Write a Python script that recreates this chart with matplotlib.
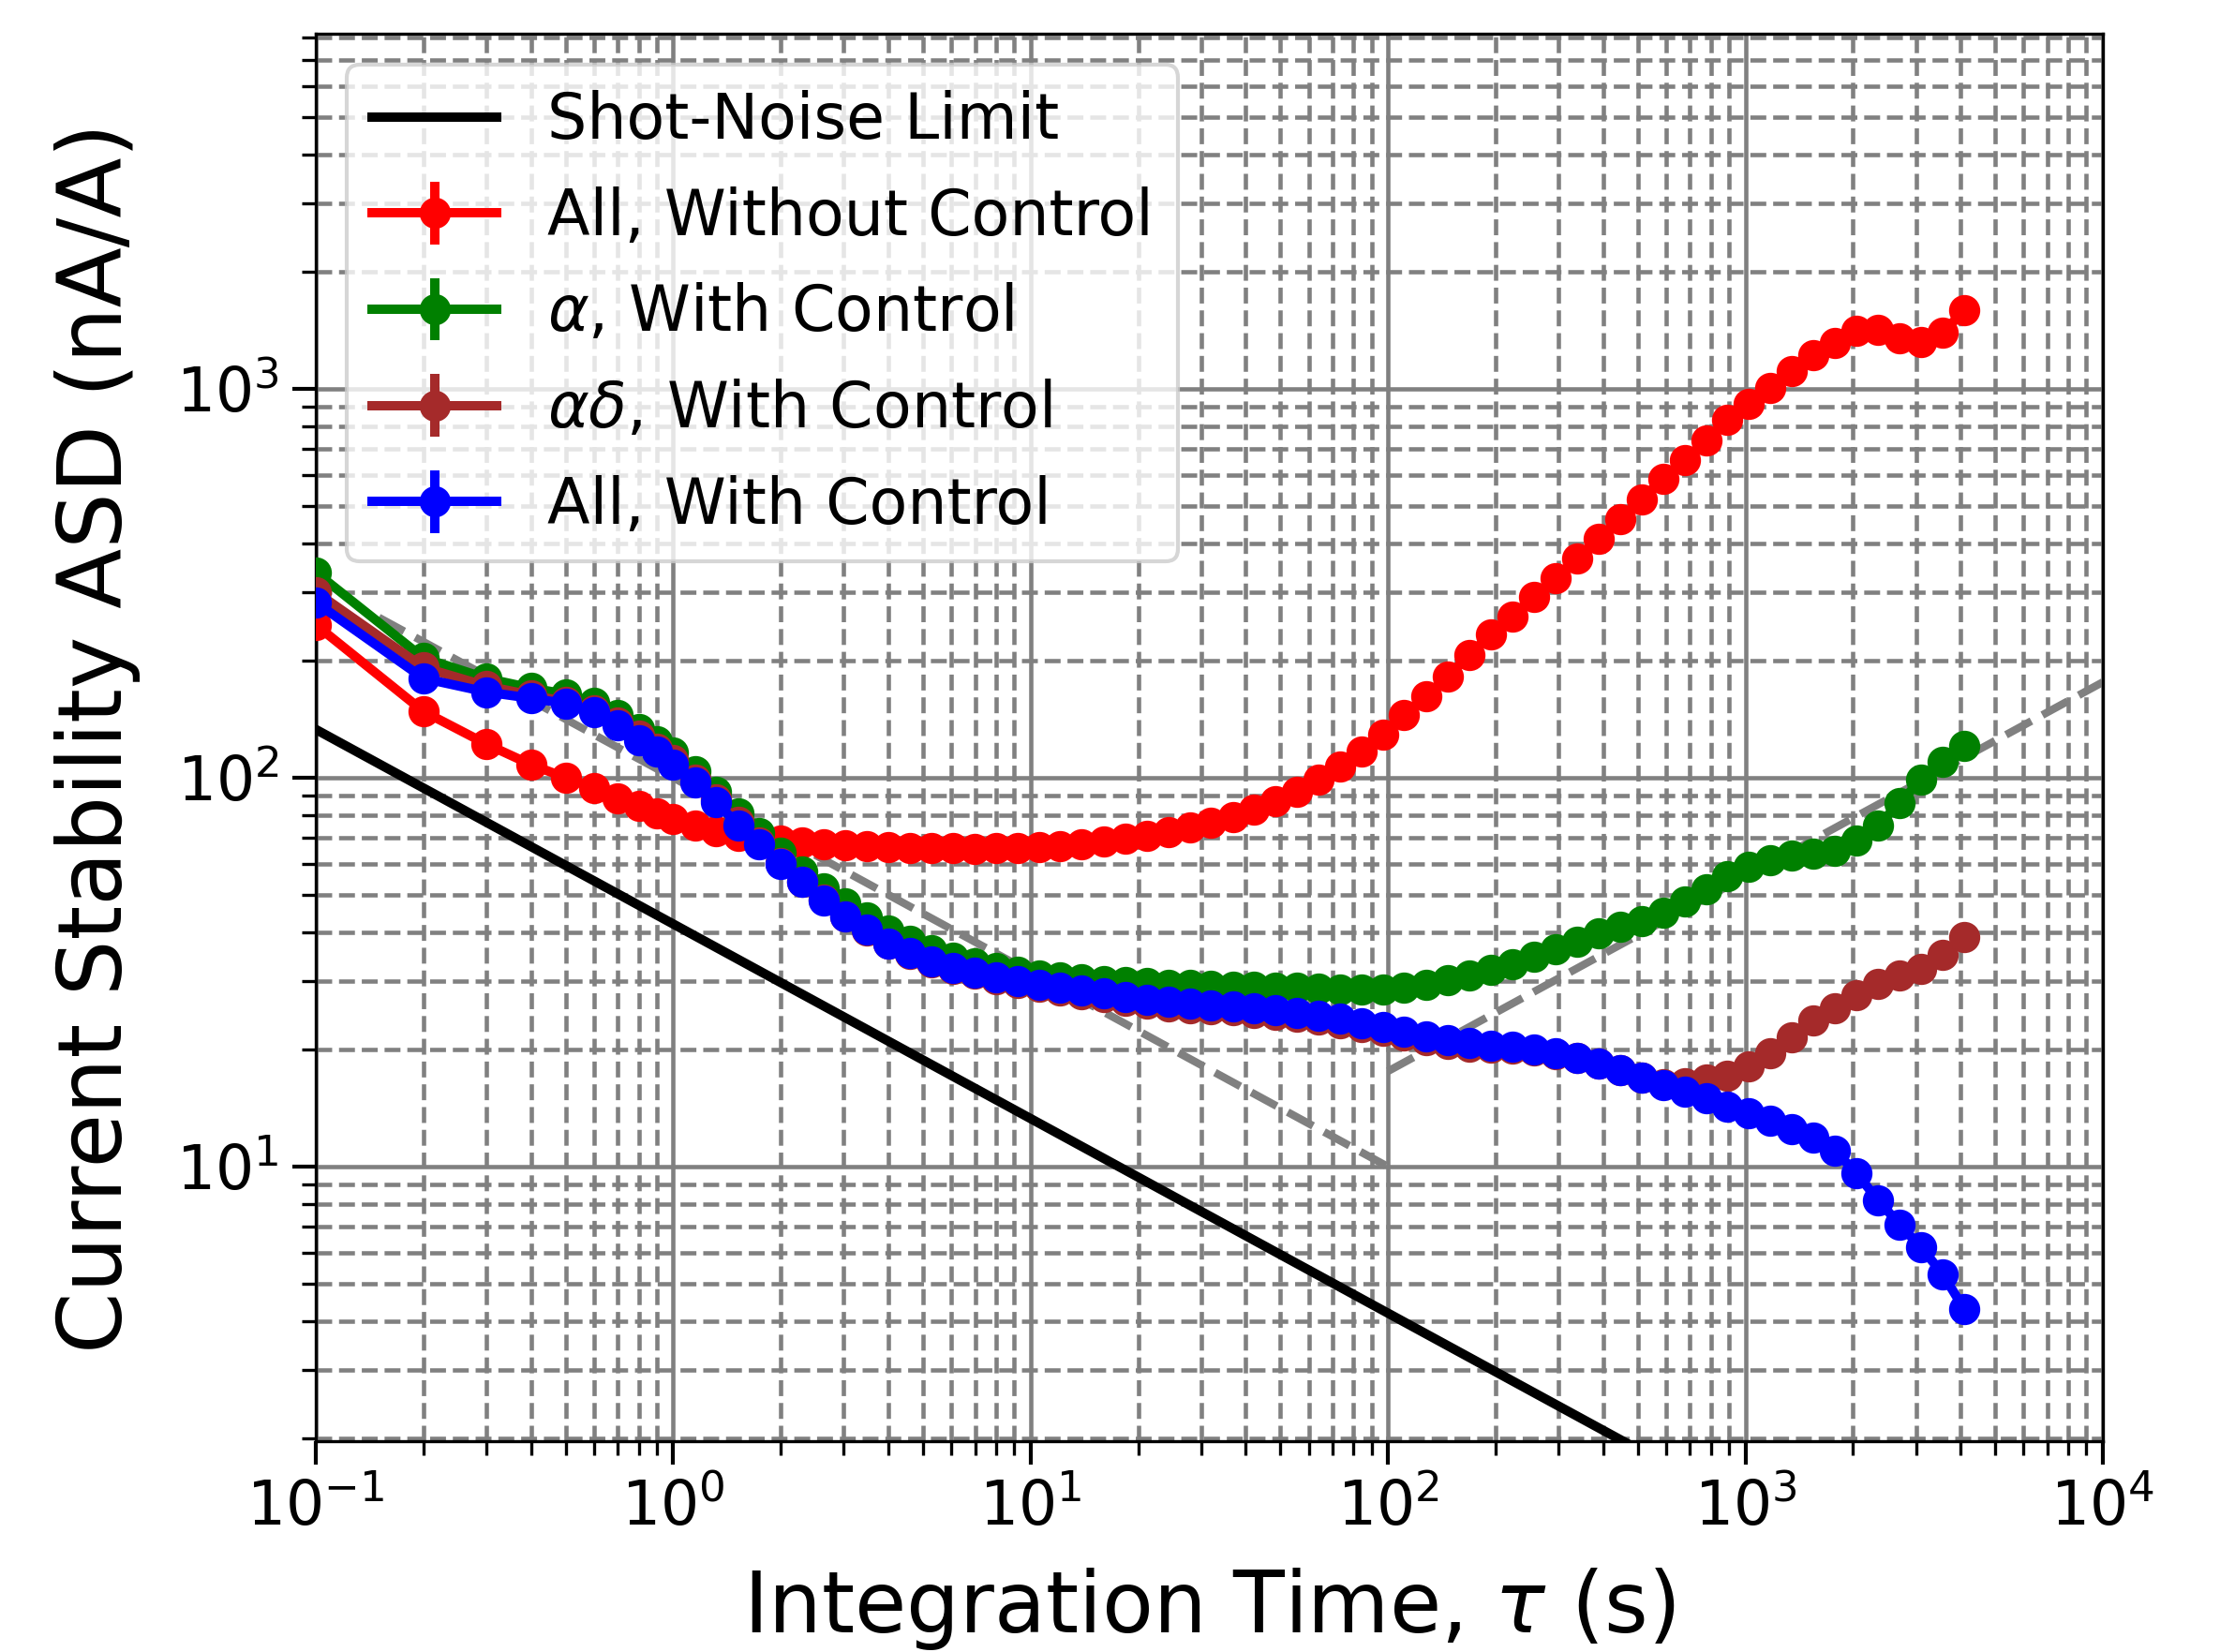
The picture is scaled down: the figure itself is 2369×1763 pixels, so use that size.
import matplotlib
matplotlib.use('Agg')
import matplotlib.pyplot as plt

# integration times (s)
tau = [0.1, 0.2, 0.3, 0.4, 0.5, 0.6, 0.7, 0.8, 0.9, 1.0,
       1.15, 1.32, 1.52, 1.74, 2.0, 2.3, 2.64, 3.03, 3.48, 4.0,
       4.6, 5.28, 6.06, 6.96, 8.0, 9.19, 10.6, 12.1, 13.9, 16.0,
       18.4, 21.1, 24.3, 27.9, 32.0, 36.8, 42.2, 48.5, 55.7, 64.0,
       73.5, 84.4, 97.0, 111, 128, 147, 169, 194, 223, 256,
       294, 338, 388, 446, 512, 588, 676, 776, 891, 1024,
       1176, 1351, 1552, 1783, 2048, 2353, 2702, 3104, 3566, 4096]

all_no_ctrl = [247, 148, 122, 108, 100, 94, 88.5, 84.5, 81, 78.5,
               75.5, 73, 71, 69.8, 69, 68.3, 67.6, 67, 66.7, 66.4,
               66.1, 65.9, 65.8, 65.7, 65.8, 66, 66.3, 66.8, 67.5, 68.5,
               69.8, 71, 72.5, 74.3, 76.5, 79, 83, 87, 92, 99,
               107, 117, 129, 145, 162, 182, 207, 234, 260, 292,
               325, 366, 410, 462, 520, 585, 655, 735, 830, 915,
               1004, 1112, 1219, 1312, 1410, 1415, 1350, 1315, 1390, 1590]

alpha_ctrl = [337, 203, 180, 170, 164, 156, 145, 133, 124, 116,
              104, 92, 81, 72, 64, 57.5, 52, 47.5, 43.7, 40.5,
              38, 36, 34.5, 33.3, 32.4, 31.7, 31.1, 30.7, 30.3, 30,
              29.8, 29.6, 29.4, 29.3, 29.2, 29.1, 29.0, 28.9, 28.8, 28.7,
              28.6, 28.5, 28.5, 28.8, 29.4, 30.2, 31.0, 32.0, 33.2, 34.6,
              36.2, 37.9, 39.7, 41.3, 42.8, 45, 48, 51.8, 55.8, 59,
              61.5, 63, 63.8, 65, 69, 75.5, 86, 99, 110, 121]

alpha_delta_ctrl = [300, 192, 172, 163, 157, 149, 139, 128, 119, 111,
                    99, 88, 77, 68, 60.5, 54, 48.5, 44, 40.5, 37.5,
                    35.3, 33.6, 32.3, 31.3, 30.4, 29.7, 29.0, 28.4, 27.8, 27.3,
                    26.7, 26.2, 25.9, 25.6, 25.4, 25.2, 24.9, 24.6, 24.3, 23.9,
                    23.4, 22.9, 22.3, 21.7, 21.1, 20.7, 20.4, 20.2, 20.1, 19.9,
                    19.5, 19.0, 18.4, 17.7, 16.9, 16.3, 16.4, 16.8, 17.1, 18.1,
                    19.6, 21.5, 23.8, 25.6, 27.6, 29.5, 31.0, 32.3, 35.0, 38.9]

all_ctrl = [282, 180, 166, 160, 155, 147, 136, 125, 117, 108,
            97, 86.5, 75.5, 67.5, 60, 54, 48.3, 44, 40.6, 37.5,
            35.4, 33.8, 32.5, 31.5, 30.6, 30.0, 29.4, 28.9, 28.4, 27.9,
            27.3, 26.8, 26.5, 26.2, 26.0, 25.8, 25.5, 25.2, 24.9, 24.5,
            24.0, 23.4, 22.8, 22.2, 21.6, 21.1, 20.8, 20.5, 20.3, 20.0,
            19.6, 19.0, 18.4, 17.7, 16.9, 16.2, 15.6, 15.0, 14.3, 13.7,
            13.1, 12.5, 11.9, 11.0, 9.6, 8.2, 7.1, 6.2, 5.3, 4.3]

# shot-noise limit, end points
shot_tau = [0.1, 10000]
shot_val = [133, 0.42]

# grey guide lines
guide_down_tau = [0.15, 100]
guide_down_val = [258, 10]
guide_up_tau = [100, 10000]
guide_up_val = [17.6, 176]

plt.rcParams['font.family'] = 'DejaVu Sans'

fig = plt.figure(figsize=(2369 / 300, 1763 / 300), dpi=300)
ax = fig.add_axes([0.1423, 0.1276, 0.8049, 0.852])

ax.plot(shot_tau, shot_val, color='k', lw=2.4, label='Shot-Noise Limit', zorder=3)
ax.plot(guide_down_tau, guide_down_val, color='grey', ls='--', lw=2, zorder=2)
ax.plot(guide_up_tau, guide_up_val, color='grey', ls='--', lw=2, zorder=2)

series = [(all_no_ctrl, 'red', 'All, Without Control'),
          (alpha_ctrl, 'green', r'$\alpha$, With Control'),
          (alpha_delta_ctrl, 'brown', r'$\alpha\delta$, With Control'),
          (all_ctrl, 'blue', 'All, With Control')]
for vals, c, lab in series:
    ax.errorbar(tau, vals, yerr=0, fmt='o-', color=c, lw=2.4, ms=7,
                label=lab, zorder=4)

ax.set_xscale('log')
ax.set_yscale('log')
ax.set_xlim(0.1, 1e4)
ax.set_ylim(1.97, 8170)

ax.grid(which='major', ls='-', color='grey', lw=1.1)
ax.grid(which='minor', ls='--', color='grey', lw=1.1)

ax.tick_params(axis='both', which='major', labelsize=15.5, length=6, width=1)
ax.tick_params(axis='both', which='minor', length=3.5, width=0.8)

ax.set_xlabel(r'Integration Time, $\tau$ (s)', fontsize=21.5, labelpad=7)
ax.set_ylabel('Current Stability ASD (nA/A)', fontsize=22.5, labelpad=9)

ax.legend(loc='upper left', fontsize=16, labelspacing=0.55)

fig.savefig('out.png', dpi=300)
